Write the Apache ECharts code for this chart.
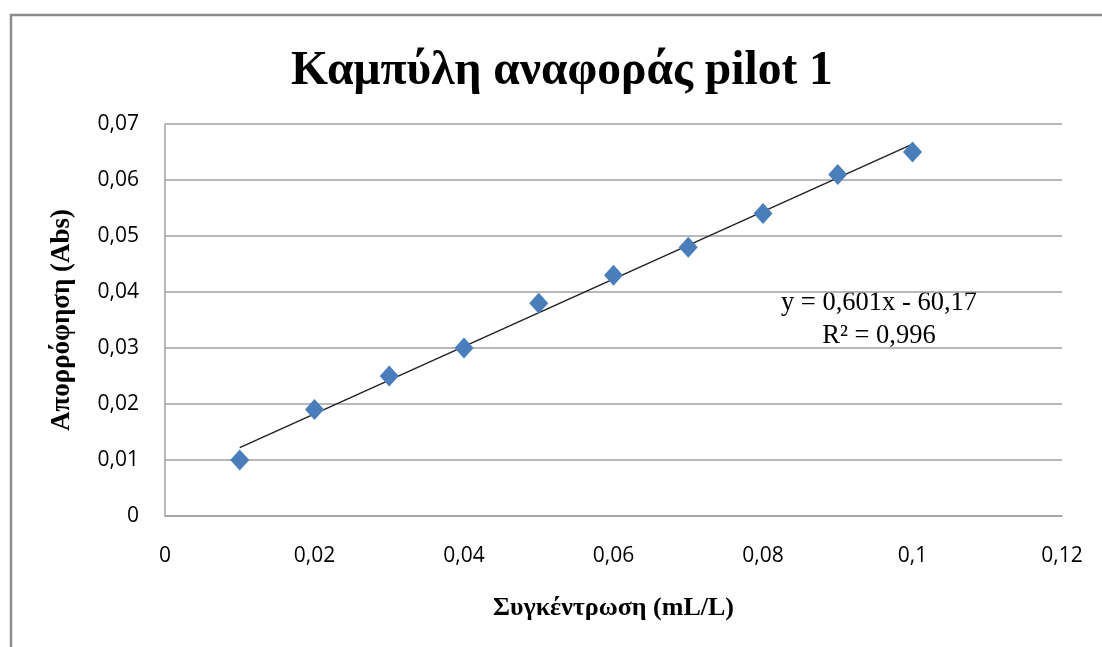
<!DOCTYPE html>
<html>
<head>
<meta charset="utf-8">
<script src="https://cdn.jsdelivr.net/npm/echarts@6/dist/echarts.min.js"></script>
<style>
  html, body { margin: 0; padding: 0; background: #fff; }
  #chart { width: 1102px; height: 647px; }
</style>
</head>
<body>
<div id="chart"></div>
<script>
// concentration (mL/L) and absorbance readings
var concentration = [0.01, 0.02, 0.03, 0.04, 0.05, 0.06, 0.07, 0.08, 0.09, 0.1];
var absorbance = [0.010, 0.019, 0.025, 0.030, 0.038, 0.043, 0.048, 0.054, 0.061, 0.065];
// linear trendline ends
var trendX = [0.01, 0.1];
var trendY = [0.0122, 0.0664];
var equationText = ['y = 0,601x - 60,17', 'R\u00b2 = 0,996'];

var chart = echarts.init(document.getElementById('chart'));

function comma(v) {
  // excel style decimal comma, drop float noise
  return String(Math.round(v * 1000) / 1000).replace('.', ',');
}

var option = {
  backgroundColor: '#fff',
  animation: false,
  title: {
    text: 'Καμπύλη αναφοράς pilot 1',
    left: 286,
    top: 43,
    textStyle: {
      fontFamily: 'Liberation Serif',
      fontWeight: 'bold',
      fontSize: 47.5,
      color: '#000'
    }
  },
  grid: { left: 165, right: 40, top: 124, bottom: 131 },
  xAxis: {
    type: 'value',
    min: 0, max: 0.12, interval: 0.02,
    name: 'Συγκέντρωση (mL/L)',
    nameLocation: 'middle',
    nameGap: 79,
    nameTextStyle: { fontFamily: 'Liberation Serif', fontWeight: 'bold', fontSize: 26, color: '#000' },
    axisLine: { lineStyle: { color: '#a0a0a0', width: 1.5 } },
    axisTick: { show: false },
    axisLabel: { formatter: comma, margin: 30, fontFamily: 'Open Sans', fontSize: 21, color: '#000' },
    splitLine: { show: false }
  },
  yAxis: {
    type: 'value',
    min: 0, max: 0.07, interval: 0.01,
    name: 'Απορρόφηση (Abs)',
    nameLocation: 'middle',
    nameGap: 89,
    nameTextStyle: { fontFamily: 'Liberation Serif', fontWeight: 'bold', fontSize: 27, color: '#000' },
    axisLine: { show: true, lineStyle: { color: '#a0a0a0', width: 1.5 } },
    axisTick: { show: false },
    axisLabel: { formatter: comma, margin: 26, fontFamily: 'Open Sans', fontSize: 21, color: '#000' },
    splitLine: { lineStyle: { color: '#a0a0a0', width: 1.5 } }
  },
  series: [
    {
      name: 'trend',
      type: 'line',
      data: trendX.map(function (x, i) { return [x, trendY[i]]; }),
      symbol: 'none',
      lineStyle: { color: '#222', width: 1.5 },
      z: 2
    },
    {
      name: 'pilot 1',
      type: 'scatter',
      data: concentration.map(function (x, i) { return [x, absorbance[i]]; }),
      symbol: 'diamond',
      symbolSize: [19, 21],
      itemStyle: { color: '#4a7ebb', opacity: 1 },
      z: 3
    }
  ],
  graphic: [
    {
      type: 'rect',
      shape: { x: 11, y: 15, width: 1200, height: 700 },
      style: { fill: 'none', stroke: '#8c8c8c', lineWidth: 2.5 },
      silent: true
    },
    {
      type: 'text',
      x: 879, y: 287,
      style: {
        text: equationText.join('\n'),
        align: 'center',
        lineHeight: 33,
        font: '26.5px "Liberation Serif"',
        fill: '#000'
      }
    }
  ]
};

chart.setOption(option);
</script>
</body>
</html>
